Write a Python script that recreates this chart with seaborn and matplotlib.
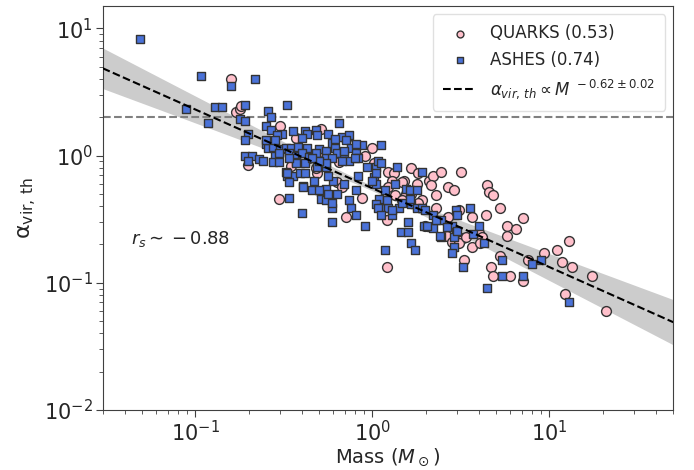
import numpy as np
import pandas as pd
import matplotlib
matplotlib.use("Agg")
import matplotlib.pyplot as plt
import seaborn as sns

# ---- data (log10 values) ----
ashes_log_mass = [
    -1.31, -0.97, -0.66, -0.80, -1.05, -0.89, -0.85, -0.72, -0.48, -0.93,
    -0.59, -0.57, -0.75, -0.72, -0.60, -0.70, -0.72, -0.57, -0.51, -0.54,
    -0.45, -0.38, -0.37, -0.32, -0.31, -0.60, -0.59, -0.56, -0.72, -0.68,
    -0.70, -0.64, -0.62, -0.55, -0.56, -0.52, -0.49, -0.46, -0.42, -0.37,
    -0.30, -0.26, -0.47, -0.43, -0.40, -0.36, -0.32, -0.26, -0.53, -0.43,
    -0.38, -0.31, -0.26, -0.48, -0.45, -0.47, -0.39, -0.34, -0.29, -0.26,
    -0.41, -0.38, -0.33, -0.29, -0.47, -0.40, -0.26, -0.55, -0.40, -0.25,
    -0.19, -0.17, -0.13, -0.15, -0.23, -0.21, -0.20, -0.16, -0.12, -0.09,
    -0.06, -0.08, -0.13, -0.17, -0.23, -0.26, -0.30, -0.34, -0.43, -0.47,
    -0.49, -0.39, -0.30, -0.23, -0.23, -0.20, -0.22, -0.25, -0.16, -0.13,
    -0.12, -0.09, -0.09, -0.08, -0.03, 0.01, 0.02, 0.03, 0.05, 0.02,
    0.04, 0.02, 0.05, 0.09, 0.05, -0.04, 0.07, 0.16, 0.20, 0.22,
    0.24, 0.20, 0.15, 0.11, 0.17, 0.14, 0.13, 0.19, 0.21, 0.25,
    0.28, 0.22, 0.25, 0.28, 0.29, 0.33, 0.34, 0.39, 0.39, 0.45,
    0.47, 0.48, 0.47, 0.46, 0.46, 0.45, 0.51, 0.55, 0.60, 0.63,
    0.65, 0.73, 0.73, 0.85, 0.95, 0.90, 1.11, 0.34, 0.38, 0.02,
    0.00, 0.07, 0.08, 0.03, 0.11, 0.05, 0.21, 0.30, 0.36, 0.31,
    0.42, 0.48, 0.57, -0.60, -0.16, -0.53, -0.48, -0.25, -0.23, -0.09,
    -0.10, -0.21,
]
ashes_log_alpha = [
    0.92, 0.63, 0.60, 0.55, 0.37, 0.38, 0.38, 0.40, 0.40, 0.26,
    0.35, 0.30, 0.29, 0.27, 0.23, 0.17, 0.12, 0.20, 0.17, 0.16,
    0.19, 0.19, 0.17, 0.20, 0.16, 0.09, 0.06, 0.07, 0.00, 0.00,
    -0.04, -0.03, -0.04, 0.00, -0.05, 0.05, 0.06, 0.06, 0.07, 0.06,
    0.05, 0.04, 0.02, 0.00, 0.02, -0.01, 0.02, -0.02, -0.05, -0.05,
    -0.06, -0.09, -0.09, -0.16, -0.16, -0.21, -0.24, -0.27, -0.29, -0.26,
    -0.14, -0.14, -0.20, -0.34, -0.33, -0.45, -0.35, 0.12, 0.14, 0.17,
    0.26, 0.15, 0.16, 0.12, 0.10, 0.06, 0.02, 0.02, 0.06, 0.02,
    0.08, -0.02, -0.04, -0.04, -0.02, -0.06, -0.04, -0.02, -0.06, -0.02,
    -0.13, -0.25, -0.27, -0.41, -0.52, -0.30, -0.20, -0.16, -0.22, -0.35,
    -0.41, -0.47, -0.27, -0.16, -0.09, -0.17, -0.09, -0.04, -0.06, -0.22,
    -0.34, -0.38, -0.41, -0.41, 0.08, -0.55, -0.74, -0.60, -0.60, -0.69,
    -0.74, -0.52, -0.41, -0.47, -0.37, -0.09, -0.22, -0.26, -0.27, -0.27,
    -0.13, -0.38, -0.41, -0.41, -0.55, -0.56, -0.47, -0.51, -0.64, -0.55,
    -0.43, -0.47, -0.60, -0.64, -0.72, -0.77, -0.88, -0.41, -0.55, -0.69,
    -1.04, -0.82, -0.95, -0.95, -0.82, -0.85, -1.15, -0.57, -0.63, -0.14,
    -0.20, -0.27, -0.35, -0.41, -0.43, -0.47, -0.34, -0.43, -0.51, -0.55,
    -0.56, -0.59, -0.62, 0.12, 0.04, 0.02, -0.14, -0.30, -0.37, 0.09,
    -0.02, 0.13,
]

quarks_log_mass = [
    -0.80, -0.77, -0.75, -0.74, -0.52, -0.29, -0.43, -0.70, -0.46, -0.53,
    -0.31, -0.32, -0.29, -0.18, -0.15, -0.04, 0.00, 0.01, -0.06, -0.15,
    0.08, 0.08, 0.09, 0.12, 0.11, 0.18, 0.22, 0.26, 0.32, 0.34,
    0.39, 0.50, 0.43, 0.46, 0.36, 0.33, 0.25, 0.19, 0.13, 0.28,
    0.36, 0.43, 0.42, 0.45, 0.49, 0.51, 0.56, 0.60, 0.62, 0.56,
    0.64, 0.65, 0.66, 0.52, 0.67, 0.68, 0.72, 0.68, 0.85, 0.76,
    0.81, 0.76, 1.11, 1.04, 0.97, 1.07, 1.13, 1.24, 0.88, 0.72,
    0.78, 0.85, 1.09, 1.32, 0.49, -0.30, -0.36, -0.20, -0.17, 0.17,
    0.09, 0.17, 0.26, 0.30, 0.53, 0.61, -0.19, 0.22,
]
quarks_log_alpha = [
    0.60, 0.34, 0.37, 0.39, 0.23, 0.21, 0.14, -0.07, -0.08, -0.34,
    -0.14, -0.10, 0.00, -0.02, 0.13, 0.00, 0.06, -0.06, -0.33, -0.48,
    -0.51, -0.88, -0.13, -0.14, -0.20, -0.20, -0.10, -0.14, -0.20, -0.16,
    -0.13, -0.13, -0.25, -0.27, -0.31, -0.23, -0.22, -0.30, -0.31, -0.35,
    -0.41, -0.48, -0.63, -0.68, -0.43, -0.65, -0.48, -0.61, -0.64, -0.72,
    -0.47, -0.23, -0.29, -0.82, -0.88, -0.95, -0.41, -0.31, -0.49, -0.55,
    -0.58, -0.63, -0.67, -0.74, -0.77, -0.84, -0.88, -0.95, -0.82, -0.79,
    -0.95, -0.99, -1.09, -1.22, -0.69, -0.04, -0.02, -0.21, -0.25, -0.21,
    -0.25, -0.35, -0.37, -0.55, -0.64, -0.69, -0.05, -0.30,
]

quarks_label = "QUARKS (0.53)"
ashes_label = "ASHES (0.74)"
fit_label = r"$\alpha_{vir,\,th} \propto M^{\ -0.62 \pm 0.02}$"
fit_slope = -0.62
fit_log_norm = -0.257
band_slope_err = 0.104
band_norm_err = 0.02
threshold = 2.0
rs_text = r"$r_s \sim -0.88$"

# ---- figure ----
sns.set_style("ticks")
plt.rcParams["font.family"] = ["DejaVu Sans"]
plt.rcParams["mathtext.fontset"] = "dejavusans"

fig, ax = plt.subplots(figsize=(6.94, 4.70), dpi=100)
fig.subplots_adjust(left=0.148, right=0.970, bottom=0.128, top=0.987)

ax.set_xscale("log")
ax.set_yscale("log")
ax.set_xlim(0.03, 50)
ax.set_ylim(0.01, 15)

# fit line and band
lx = np.linspace(np.log10(0.03), np.log10(50), 200)
ly = fit_log_norm + fit_slope * lx
half = np.sqrt(band_norm_err**2 + (band_slope_err * lx) ** 2)
ax.fill_between(10**lx, 10**(ly - half), 10**(ly + half), color="0.8", lw=0, zorder=1)

q_df = pd.DataFrame({"mass": 10**np.array(quarks_log_mass), "alpha": 10**np.array(quarks_log_alpha)})
a_df = pd.DataFrame({"mass": 10**np.array(ashes_log_mass), "alpha": 10**np.array(ashes_log_alpha)})

sns.scatterplot(data=q_df, x="mass", y="alpha", marker="o", s=50, color="pink",
                edgecolor="#333333", linewidth=1.0, ax=ax, label=quarks_label, zorder=2)
sns.scatterplot(data=a_df, x="mass", y="alpha", marker="s", s=40, color="#4a72d8",
                edgecolor="#333333", linewidth=1.0, ax=ax, label=ashes_label, zorder=2)

fit_df = pd.DataFrame({"mass": 10**lx, "alpha": 10**ly})
sns.lineplot(data=fit_df, x="mass", y="alpha", color="black", linestyle="--", lw=1.5,
             ax=ax, label=fit_label, zorder=3)

ax.axhline(threshold, color="gray", linestyle="--", lw=1.5, zorder=1.5)

ax.text(0.0434, 0.22, rs_text, fontsize=13, ha="left", va="center")

ax.set_xlabel(r"Mass ($M_\odot$)", fontsize=14, labelpad=1)
ax.set_ylabel(r"$\mathrm{\alpha_{vir,\,th}}$", fontsize=16, labelpad=4)
ax.tick_params(axis="both", which="major", labelsize=15, length=5, color="0.25", pad=2)
ax.tick_params(axis="both", which="minor", length=3, color="0.25")
for sp in ax.spines.values():
    sp.set_color("0.25")

leg = ax.legend(loc="upper right", fontsize=12, markerscale=0.7, frameon=True,
                borderpad=0.6, labelspacing=0.5)
leg.get_frame().set_edgecolor("0.85")

fig.savefig("out.png", dpi=100)
